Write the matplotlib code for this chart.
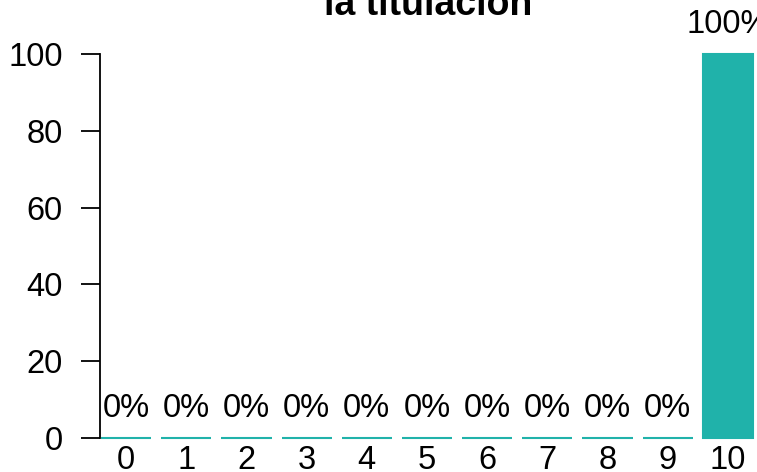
import matplotlib.pyplot as plt

plt.rcParams['font.family'] = ['Liberation Sans', 'DejaVu Sans']

# Datos
notas = ['0', '1', '2', '3', '4', '5', '6', '7', '8', '9', '10']
porcentajes = [0, 0, 0, 0, 0, 0, 0, 0, 0, 0, 100]
color_barra = '#20B2AA'

W, H = 757, 472
fig = plt.figure(figsize=(W / 100, H / 100), dpi=100)
ax = fig.add_axes([100 / W, 34 / H, 657 / W, 384 / H])

x = [0.7 + 1.2 * i for i in range(len(notas))]
ax.bar(x, porcentajes, width=1.0, color=color_barra,
       edgecolor=color_barra, linewidth=1.5, clip_on=False)

for xi, v in zip(x, porcentajes):
    ax.annotate(f'{v}%', (xi, v), xytext=(0, 10), textcoords='offset points',
                ha='center', va='bottom', fontsize=23.5, annotation_clip=False)

ax.set_xlim(0.18, 13.28)
ax.set_ylim(0, 100)
ax.set_xticks(x)
ax.set_xticklabels(notas, fontsize=23.5)
ax.tick_params(axis='x', length=0, pad=5)
ax.set_yticks([0, 20, 40, 60, 80, 100])
ax.tick_params(axis='y', labelsize=23.5, length=14, width=1.3, pad=13)

for s in ['top', 'right', 'bottom']:
    ax.spines[s].set_visible(False)
ax.spines['left'].set_bounds(0, 100)
ax.spines['left'].set_linewidth(1.3)

fig.text(428 / W, 1 - 15 / H, 'la titulación', ha='center', va='baseline',
         fontsize=27, fontweight='bold')

fig.savefig('out.png', dpi=100)
